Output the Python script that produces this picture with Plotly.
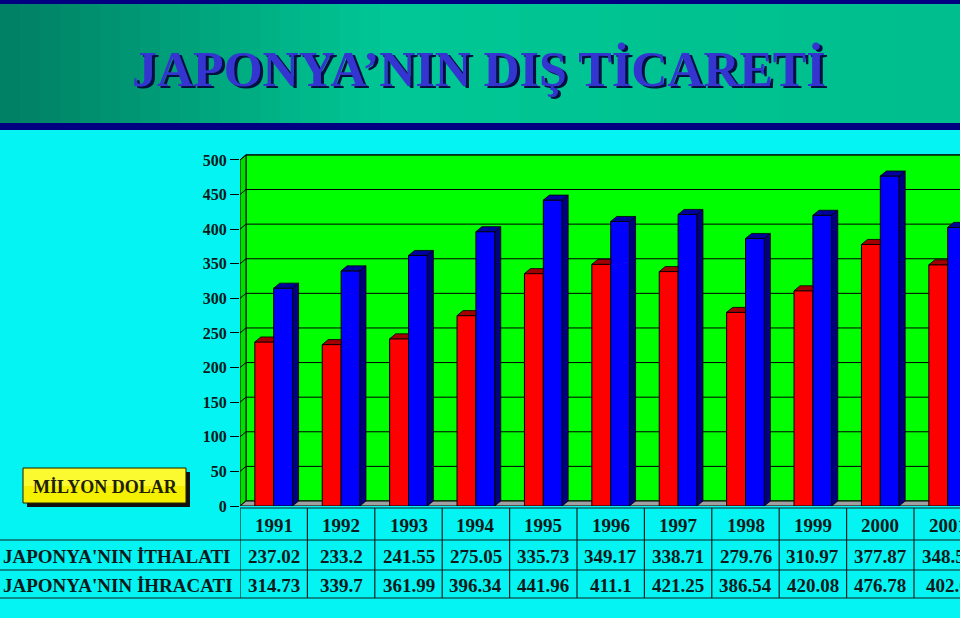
import plotly.graph_objects as go

# ---------------- data ----------------
years = ["1991", "1992", "1993", "1994", "1995", "1996", "1997", "1998", "1999", "2000", "2001"]
ithalat = [237.02, 233.2, 241.55, 275.05, 335.73, 349.17, 338.71, 279.76, 310.97, 377.87, 348.55]
ihracat = [314.73, 339.7, 361.99, 396.34, 441.96, 411.1, 421.25, 386.54, 420.08, 476.78, 402.6]
row_labels = ["JAPONYA'NIN İTHALATI", "JAPONYA'NIN İHRACATI"]
tick_vals = [0, 50, 100, 150, 200, 250, 300, 350, 400, 450, 500]
title_text = "JAPONYA’NIN DIŞ TİCARETİ"
unit_text = "MİLYON DOLAR"

# ---------------- geometry / style ----------------
W, H = 960, 618
ML, MT, MB = 240, 153, 112
PW, PH = W - ML, H - MT - MB
CAT_PX = 67.4
X0 = -0.5
X_END = X0 + PW / CAT_PX
Y_TOP = 510
DX = 6 / CAT_PX
DY = 5 / (PH / Y_TOP)
BW = 0.28
SERIF = "Liberation Serif, Times New Roman, serif"
CYAN = "#04F4F4"
TXT = "#0a1a1a"


def pxx(p):
    return (p - ML) / PW


def pxy(p):
    return (MT + PH - p) / PH


idx = list(range(len(years)))
fig = go.Figure()

# front faces
fig.add_trace(go.Bar(x=idx, y=ithalat, offset=-BW, width=BW, marker=dict(color="#FF0000", line=dict(color="black", width=1)),
                     hoverinfo="skip", showlegend=False))
fig.add_trace(go.Bar(x=idx, y=ihracat, offset=0, width=BW, marker=dict(color="#0000FF", line=dict(color="black", width=1)),
                     hoverinfo="skip", showlegend=False))

# red top faces (clipped at the blue bar)
rx, ry = [], []
for i, v in zip(idx, ithalat):
    rx += [i - BW, i - BW + DX, i, i, i - BW, None]
    ry += [v, v + DY, v + DY, v, v, None]
fig.add_trace(go.Scatter(x=rx, y=ry, mode="lines", fill="toself", fillcolor="#A00000",
                         line=dict(color="black", width=0.8), hoverinfo="skip", showlegend=False))
# blue side and top faces
sx, sy, tx, ty = [], [], [], []
for i, v in zip(idx, ihracat):
    r = i + BW
    sx += [r, r + DX, r + DX, r, r, None]
    sy += [0, DY, v + DY, v, 0, None]
    tx += [i, i + DX, r + DX, r, i, None]
    ty += [v, v + DY, v + DY, v, v, None]
fig.add_trace(go.Scatter(x=sx, y=sy, mode="lines", fill="toself", fillcolor="#000080",
                         line=dict(color="black", width=0.8), hoverinfo="skip", showlegend=False))
fig.add_trace(go.Scatter(x=tx, y=ty, mode="lines", fill="toself", fillcolor="#00009C",
                         line=dict(color="black", width=0.8), hoverinfo="skip", showlegend=False))

shapes = []
# banner gradient
n = 48
c_left, c_mid, c_right = (0, 128, 100), (0, 200, 150), (0, 190, 142)
for k in range(n):
    t = k / (n - 1)
    if t < 0.4:
        u = t / 0.4
        c = [int(a + (b - a) * u) for a, b in zip(c_left, c_mid)]
    else:
        u = (t - 0.4) / 0.6
        c = [int(a + (b - a) * u) for a, b in zip(c_mid, c_right)]
    shapes.append(dict(type="rect", xref="paper", yref="paper", x0=pxx(k * W / n), x1=pxx((k + 1) * W / n + 1),
                       y0=pxy(123), y1=pxy(4), fillcolor="rgb(%d,%d,%d)" % tuple(c), line=dict(width=0), layer="below"))
shapes.append(dict(type="rect", xref="paper", yref="paper", x0=pxx(0), x1=pxx(W), y0=pxy(4), y1=pxy(0),
                   fillcolor="#000080", line=dict(width=0), layer="below"))
shapes.append(dict(type="rect", xref="paper", yref="paper", x0=pxx(0), x1=pxx(W), y0=pxy(130), y1=pxy(123),
                   fillcolor="#000080", line=dict(width=0), layer="below"))

# walls and floor
shapes.append(dict(type="rect", xref="x", yref="y", x0=X0 + DX, x1=X_END + 1, y0=DY, y1=500 + DY,
                   fillcolor="#00FF00", line=dict(color="black", width=1), layer="below"))
shapes.append(dict(type="path", xref="x", yref="y",
                   path="M %f,0 L %f,%f L %f,%f L %f,500 Z" % (X0, X0 + DX, DY, X0 + DX, 500 + DY, X0),
                   fillcolor="#00E000", line=dict(color="black", width=1), layer="below"))
shapes.append(dict(type="path", xref="x", yref="y",
                   path="M %f,0 L %f,0 L %f,%f L %f,%f Z" % (X0, X_END + 1, X_END + 1 + DX, DY, X0 + DX, DY),
                   fillcolor="#A0A0A0", line=dict(color="black", width=1), layer="below"))
for t in tick_vals[1:]:
    shapes.append(dict(type="path", xref="x", yref="y",
                       path="M %f,%f L %f,%f L %f,%f" % (X0, t, X0 + DX, t + DY, X_END + 1, t + DY),
                       line=dict(color="black", width=1), layer="below"))

# table lines
for yy in [540, 570, 598]:
    shapes.append(dict(type="line", xref="paper", yref="paper", x0=pxx(0), x1=pxx(W), y0=pxy(yy), y1=pxy(yy),
                       line=dict(color="#102020", width=1.2)))
shapes.append(dict(type="line", xref="paper", yref="paper", x0=pxx(ML), x1=pxx(W), y0=pxy(508), y1=pxy(508),
                   line=dict(color="#102020", width=1.2)))
for i in range(len(years)):
    shapes.append(dict(type="line", xref="x", yref="paper", x0=i - 0.5, x1=i - 0.5, y0=pxy(508), y1=pxy(598),
                       line=dict(color="#102020", width=1.2)))

# unit box
shapes.append(dict(type="rect", xref="paper", yref="paper", x0=pxx(27), x1=pxx(190), y0=pxy(507), y1=pxy(472),
                   fillcolor="#111111", line=dict(width=0)))
shapes.append(dict(type="rect", xref="paper", yref="paper", x0=pxx(23), x1=pxx(186), y0=pxy(503), y1=pxy(468),
                   fillcolor="#F5F000", line=dict(color="#222200", width=1)))
shapes.append(dict(type="rect", xref="paper", yref="paper", x0=pxx(24), x1=pxx(185), y0=pxy(486), y1=pxy(469),
                   fillcolor="#FFFF50", line=dict(width=0), opacity=0.6))

ann = []
# title with shadow
for dxp, dyp, col in [(2.5, 2.5, "#001040"), (0, 0, "#3434D0")]:
    ann.append(dict(xref="paper", yref="paper", x=pxx(479 + dxp), y=pxy(69 + dyp), text="<b>%s</b>" % title_text,
                    showarrow=False, xanchor="center", yanchor="middle",
                    font=dict(family=SERIF, size=50, color=col)))
ann.append(dict(xref="paper", yref="paper", x=pxx(105), y=pxy(487), text="<b>%s</b>" % unit_text, showarrow=False,
                xanchor="center", yanchor="middle", font=dict(family=SERIF, size=18, color="#202000")))
# table text
for i, yv in enumerate(years):
    ann.append(dict(xref="x", yref="paper", x=i, y=pxy(525), text="<b>%s</b>" % yv, showarrow=False,
                    xanchor="center", yanchor="middle", font=dict(family=SERIF, size=19, color=TXT)))
for row, (lab, vals) in enumerate(zip(row_labels, [ithalat, ihracat])):
    yc = [556, 585][row]
    ann.append(dict(xref="paper", yref="paper", x=pxx(1), y=pxy(yc), text="<b>%s</b>" % lab, showarrow=False,
                    xanchor="left", yanchor="middle", font=dict(family=SERIF, size=19, color=TXT)))
    for i, v in enumerate(vals):
        ann.append(dict(xref="x", yref="paper", x=i, y=pxy(yc), text="<b>%s</b>" % ("%g" % v), showarrow=False,
                        xanchor="center", yanchor="middle", font=dict(family=SERIF, size=19, color=TXT)))

fig.update_layout(
    width=W, height=H, margin=dict(l=ML, r=0, t=MT, b=MB, pad=0),
    paper_bgcolor=CYAN, plot_bgcolor=CYAN, barmode="overlay", showlegend=False,
    shapes=shapes, annotations=ann,
    xaxis=dict(range=[X0, X_END], visible=False, fixedrange=True),
    yaxis=dict(range=[0, Y_TOP], tickvals=tick_vals, ticktext=["<b>%d</b>" % t for t in tick_vals], ticks="outside",
               ticklen=9, tickcolor="black", tickwidth=1, showgrid=False, zeroline=False, showline=False,
               tickfont=dict(family=SERIF, size=16, color=TXT), fixedrange=True),
)
fig.write_html("out.html", config={"displayModeBar": False},
               post_script="document.body.style.margin='0px';document.body.style.overflow='hidden';")
